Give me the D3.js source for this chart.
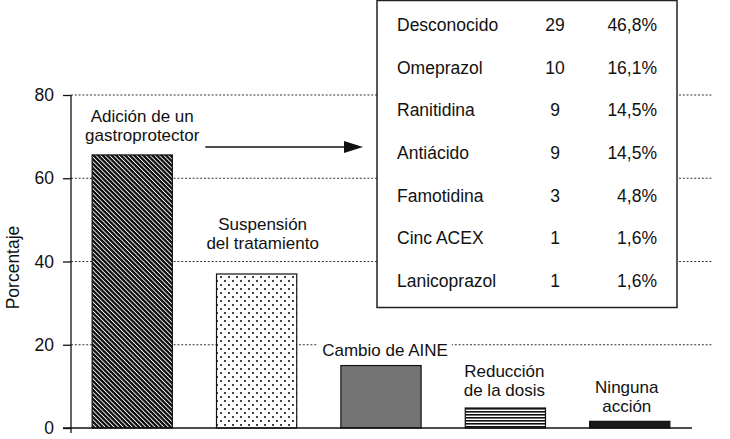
<!DOCTYPE html>
<html>
<head>
<meta charset="utf-8">
<script src="https://cdn.jsdelivr.net/npm/d3@7"></script>
<style>
  body { margin: 0; background: #fff; }
  text { font-family: "Liberation Sans", Arial, Helvetica, sans-serif; fill: #111; }
</style>
</head>
<body>
<div class="chart"></div>
<script>
// Chart data
const categories = [
    ['Adición de un', 'gastroprotector'],
    ['Suspensión', 'del tratamiento'],
    ['Cambio de AINE'],
    ['Reducción', 'de la dosis'],
    ['Ninguna', 'acción']
];
const values = [65.6, 37, 15, 4.8, 1.6];
const yTicks = [0, 20, 40, 60, 80];
const yTitle = 'Porcentaje';

// Inset table data
const drugs = ['Desconocido', 'Omeprazol', 'Ranitidina', 'Antiácido', 'Famotidina', 'Cinc ACEX', 'Lanicoprazol'];
const counts = [29, 10, 9, 9, 3, 1, 1];
const shares = ['46,8%', '16,1%', '14,5%', '14,5%', '4,8%', '1,6%', '1,6%'];

// Sizes
const width = 730;
const height = 439;
const margin = {top: 95, right: 39, bottom: 11, left: 71};
const inner_width = width - margin.left - margin.right;
const inner_height = height - margin.top - margin.bottom;
const gridEnd = 641;

const svg = d3.select('.chart').append('svg')
    .attr('width', width)
    .attr('height', height);

// Fill patterns
const defs = svg.append('defs');
const diag = defs.append('pattern')
    .attr('id', 'diag')
    .attr('patternUnits', 'userSpaceOnUse')
    .attr('width', 3.2).attr('height', 3.2)
    .attr('patternTransform', 'rotate(-45)');
diag.append('rect').attr('width', 3.2).attr('height', 3.2).attr('fill', '#0d0d0d');
diag.append('rect').attr('width', 0.9).attr('height', 3.2).attr('fill', '#fff');

const dots = defs.append('pattern')
    .attr('id', 'dots')
    .attr('patternUnits', 'userSpaceOnUse')
    .attr('width', 8).attr('height', 8);
dots.append('rect').attr('width', 8).attr('height', 8).attr('fill', '#fff');
dots.append('circle').attr('cx', 2).attr('cy', 2).attr('r', 1.05).attr('fill', '#111');
dots.append('circle').attr('cx', 6).attr('cy', 6).attr('r', 1.05).attr('fill', '#111');

const hstripes = defs.append('pattern')
    .attr('id', 'hstripes')
    .attr('patternUnits', 'userSpaceOnUse')
    .attr('width', 6).attr('height', 3);
hstripes.append('rect').attr('width', 6).attr('height', 3).attr('fill', '#fff');
hstripes.append('rect').attr('y', 1).attr('width', 6).attr('height', 1.6).attr('fill', '#111');

const fills = ['url(#diag)', 'url(#dots)', '#747474', 'url(#hstripes)', '#1a1a1a'];

// Scales
const xScale = d3.scaleBand()
    .domain(d3.range(values.length))
    .range([0, 620])
    .paddingInner(0.355)
    .paddingOuter(0.17);
const yScale = d3.scaleLinear()
    .domain([0, 80])
    .range([inner_height, 0]);

const chart = svg.append('g').attr('transform', `translate(${margin.left}, ${margin.top})`);

// Dotted gridlines
chart.append('g')
    .selectAll('line')
    .data(yTicks.filter(t => t > 0))
    .join('line')
        .attr('x1', 0)
        .attr('x2', gridEnd)
        .attr('y1', d => yScale(d))
        .attr('y2', d => yScale(d))
        .attr('stroke', '#333')
        .attr('stroke-width', 1.2)
        .attr('stroke-dasharray', '2,1.8');

// Y axis
chart.append('g')
    .call(d3.axisLeft(yScale).tickValues(yTicks).tickSize(8).tickPadding(9).tickSizeOuter(0))
    .call(g => g.select('.domain').remove())
    .call(g => g.selectAll('.tick line').attr('stroke', '#111').attr('stroke-width', 1.3))
    .call(g => g.selectAll('.tick text')
        .style('font-size', '17.5px')
        .style('font-family', '"Liberation Sans", Arial, sans-serif')
        .attr('fill', '#111'));

chart.append('line')
    .attr('x1', 0).attr('x2', 0)
    .attr('y1', yScale(80)).attr('y2', inner_height + 5)
    .attr('stroke', '#111').attr('stroke-width', 1.3);

svg.append('text')
    .attr('transform', `translate(19, ${margin.top + inner_height / 2 + 6}) rotate(-90)`)
    .attr('text-anchor', 'middle')
    .style('font-size', '17.5px')
    .text(yTitle);

// Bars
chart.append('g')
    .selectAll('rect')
    .data(values)
    .join('rect')
        .attr('x', (d, i) => xScale(i))
        .attr('y', d => yScale(d))
        .attr('width', xScale.bandwidth())
        .attr('height', d => yScale(0) - yScale(d))
        .attr('fill', (d, i) => fills[i])
        .attr('stroke', '#111')
        .attr('stroke-width', 1.2);

// X axis line
chart.append('line')
    .attr('x1', -8).attr('x2', 621)
    .attr('y1', yScale(0)).attr('y2', yScale(0))
    .attr('stroke', '#111').attr('stroke-width', 1.3);

// Bar labels (nudges: dx, gap above bar)
const labelNudge = [[10, 14], [6, 25], [4, 10], [-1, 12], [-3, 9]];
const lineH = 19;
const labels = chart.append('g')
    .selectAll('g')
    .data(values)
    .join('g');

labels.append('rect').attr('fill', '#fff');

labels.append('text')
    .attr('text-anchor', 'middle')
    .style('font-size', '17px')
    .each(function(d, i) {
        const lines = categories[i];
        const cx = xScale(i) + xScale.bandwidth() / 2 + labelNudge[i][0];
        const base = yScale(d) - labelNudge[i][1];
        d3.select(this).selectAll('tspan')
            .data(lines)
            .join('tspan')
                .attr('x', cx)
                .attr('y', (_, k) => base - (lines.length - 1 - k) * lineH)
                .text(t => t);
    });

labels.each(function() {
    const g = d3.select(this);
    const bb = g.select('text').node().getBBox();
    g.select('rect')
        .attr('x', bb.x - 4).attr('y', bb.y)
        .attr('width', bb.width + 8).attr('height', bb.height);
});

// Inset table
const box = {x: 306, y: 0, w: 300, h: 307};
const table = chart.append('g').attr('transform', `translate(${box.x}, ${box.y - margin.top})`);
table.append('rect')
    .attr('x', 0).attr('y', 0.5)
    .attr('width', box.w).attr('height', box.h)
    .attr('fill', '#fff')
    .attr('stroke', '#222')
    .attr('stroke-width', 1.5);

const rowScale = d3.scalePoint()
    .domain(drugs)
    .range([31, 287]);

const rows = table.selectAll('g.row')
    .data(drugs)
    .join('g')
        .attr('class', 'row')
        .attr('transform', d => `translate(0, ${rowScale(d)})`);
rows.append('text')
    .attr('x', 20)
    .style('font-size', '17.5px')
    .text(d => d);
rows.append('text')
    .attr('x', 178)
    .attr('text-anchor', 'middle')
    .style('font-size', '17.5px')
    .text((d, i) => counts[i]);
rows.append('text')
    .attr('x', 280)
    .attr('text-anchor', 'end')
    .style('font-size', '17.5px')
    .text((d, i) => shares[i]);

// Arrow from first label to table
const ay = yScale(67.5);
const ax1 = xScale(0) + xScale.bandwidth() + 33;
const ax2 = box.x - 14;
chart.append('line')
    .attr('x1', ax1).attr('x2', ax2 - 18)
    .attr('y1', ay).attr('y2', ay)
    .attr('stroke', '#111').attr('stroke-width', 1.5);
chart.append('path')
    .attr('d', `M${ax2 - 19},${ay - 6}L${ax2},${ay}L${ax2 - 19},${ay + 6}Z`)
    .attr('fill', '#111');
</script>
</body>
</html>
